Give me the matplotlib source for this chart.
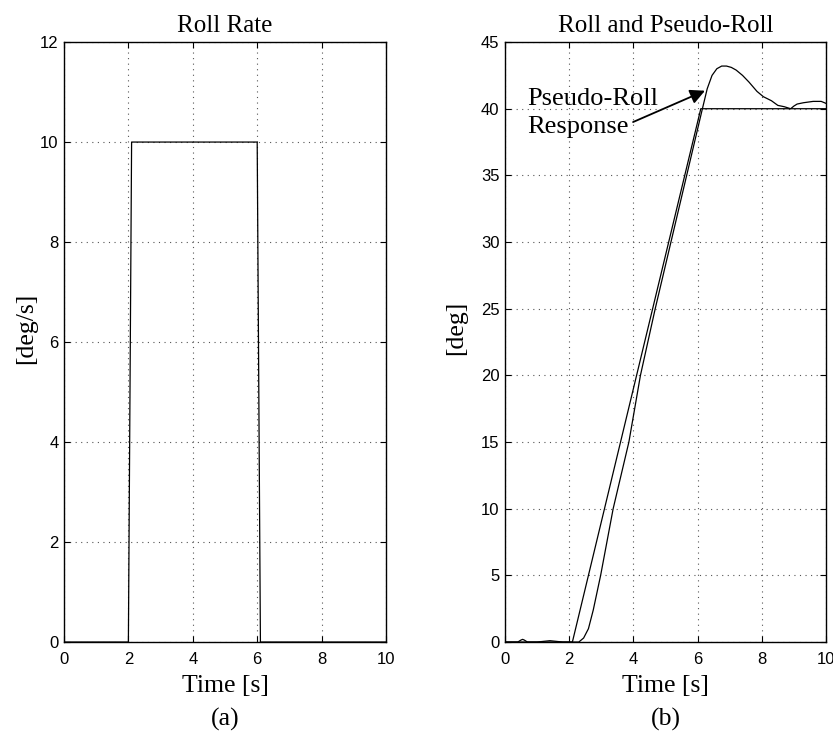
"""
Roll rate command and roll / pseudo-roll response
"""

import numpy as np
import matplotlib
matplotlib.use('Agg')
import matplotlib.pyplot as plt

# roll rate command [deg/s]
rate_t = [0.0, 2.0, 2.1, 6.0, 6.1, 10.0]
rate_val = [0.0, 0.0, 10.0, 10.0, 0.0, 0.0]

# pseudo-roll (integrated command) [deg]
pseudo_t = [0.0, 2.1, 6.1, 10.0]
pseudo_val = [0.0, 0.0, 40.0, 40.0]

# measured roll response [deg]
resp_t = [0.0, 0.4, 0.5, 0.55, 0.6, 0.7, 1.0, 1.2, 1.4, 1.6, 1.8, 2.3, 2.45,
          2.6, 2.75, 2.98, 3.37, 3.86, 4.22, 4.68, 5.17, 5.66, 6.15, 6.3,
          6.45, 6.6, 6.75, 6.9, 7.05, 7.2, 7.4, 7.6, 7.85, 8.05, 8.3, 8.5,
          8.7, 8.9, 9.0, 9.1, 9.3, 9.6, 9.85, 10.0]
resp_val = [0.0, 0.0, 0.15, 0.2, 0.15, 0.0, 0.0, 0.05, 0.1, 0.05, 0.0, 0.0,
            0.3, 1.0, 2.4, 5.0, 10.0, 15.0, 20.0, 25.0, 30.0, 35.0, 40.0,
            41.5, 42.5, 43.0, 43.2, 43.2, 43.1, 42.9, 42.5, 42.0, 41.3, 40.9,
            40.6, 40.25, 40.15, 40.0, 40.2, 40.35, 40.45, 40.55, 40.55, 40.4]

x_ticks = np.arange(0, 11, 2)
rate_ticks = np.arange(0, 13, 2)
roll_ticks = np.arange(0, 46, 5)

SERIF = ['Liberation Serif', 'DejaVu Serif']
SANS = ['Liberation Sans', 'DejaVu Sans']


def style_axes(ax, yticks):
    ax.set_xlim(0, 10)
    ax.set_ylim(yticks[0], yticks[-1])
    ax.set_xticks(x_ticks)
    ax.set_yticks(yticks)
    ax.tick_params(direction='in', top=True, right=True, length=4,
                   width=0.8, labelsize=12)
    ax.tick_params(axis='x', pad=7)
    ax.tick_params(axis='y', pad=4)
    for lab in ax.get_xticklabels() + ax.get_yticklabels():
        lab.set_family(SANS)
    ax.grid(True, linestyle=(0, (1, 4)), color='#555555', linewidth=0.8)
    for sp in ax.spines.values():
        sp.set_linewidth(1.0)
    ax.set_xlabel('Time [s]', family=SERIF, fontsize=18.5, labelpad=6)


fig = plt.figure(figsize=(8.33, 7.34), dpi=100)
ax1 = fig.add_axes([0.0768, 0.1253, 0.3866, 0.8174])
ax2 = fig.add_axes([0.6062, 0.1253, 0.3854, 0.8174])

# (a) roll rate
ax1.plot(rate_t, rate_val, color='black', linewidth=0.9)
style_axes(ax1, rate_ticks)
ax1.set_title('Roll Rate', family=SERIF, fontsize=18, pad=7)
ax1.set_ylabel('[deg/s]', family=SERIF, fontsize=18.5)
ax1.yaxis.set_label_coords(-0.084, 0.523)

# (b) roll and pseudo-roll
ax2.plot(pseudo_t, pseudo_val, color='black', linewidth=0.9)
ax2.plot(resp_t, resp_val, color='black', linewidth=0.9)
style_axes(ax2, roll_ticks)
ax2.set_title('Roll and Pseudo-Roll', family=SERIF, fontsize=18, pad=7)
ax2.set_ylabel('[deg]', family=SERIF, fontsize=18.5)
ax2.yaxis.set_label_coords(-0.118, 0.524)

ax2.text(0.68, 38.2, 'Pseudo-Roll\nResponse', family=SERIF, fontsize=19,
         ha='left', va='baseline', linespacing=1.35)
ax2.annotate('', xy=(6.23, 41.35), xytext=(3.99, 39.0),
             arrowprops=dict(arrowstyle='-|>', color='black', lw=1.3,
                             mutation_scale=22, shrinkA=0, shrinkB=0))

fig.text(0.2701, 0.012, '(a)', family=SERIF, fontsize=18.5, ha='center')
fig.text(0.7989, 0.012, '(b)', family=SERIF, fontsize=18.5, ha='center')

fig.savefig('out.png', dpi=100)
